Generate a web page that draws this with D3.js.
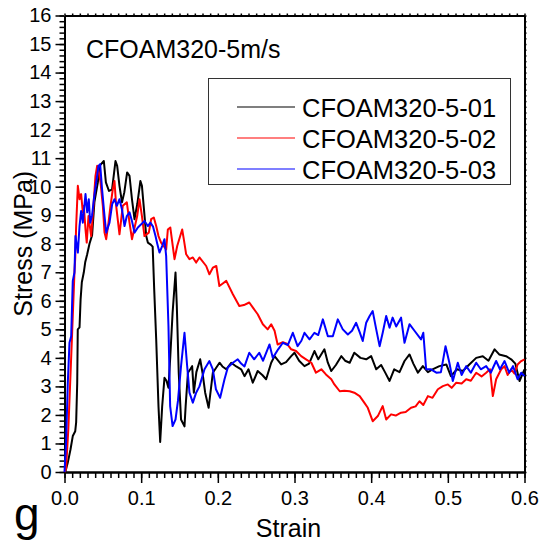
<!DOCTYPE html>
<html>
<head>
<meta charset="utf-8">
<script src="https://cdn.jsdelivr.net/npm/d3@7"></script>
<style>
  body { margin: 0; background: #fff; }
  text { font-family: "Liberation Sans", Arial, sans-serif; }
</style>
</head>
<body>
<div id="chart"></div>
<script>
// stress-strain curves, [strain, stress (MPa)]
const seriesNames = ["CFOAM320-5-01", "CFOAM320-5-02", "CFOAM320-5-03"];
const seriesColors = ["#000000", "#ff0000", "#0000ff"];

const curve01 = [[0,0],[0.0013,0.03],[0.0043,0.33],[0.0078,0.79],[0.0108,1.26],[0.014,1.43],[0.0152,1.74],[0.0166,3.14],[0.0173,5.0],[0.0196,5.07],[0.021,6.05],[0.0226,6.65],[0.0252,7.0],[0.027,7.35],[0.0296,7.63],[0.0326,8.0],[0.036,8.3],[0.039,9.46],[0.0435,10.15],[0.0457,10.73],[0.0513,10.9],[0.054,10.15],[0.058,9.85],[0.062,9.9],[0.0665,10.9],[0.0687,10.73],[0.0717,10.03],[0.075,9.45],[0.078,9.8],[0.0817,10.5],[0.0848,10.38],[0.088,9.56],[0.0913,8.86],[0.095,9.4],[0.099,10.2],[0.101,10.03],[0.104,9.1],[0.1066,8.27],[0.1087,8.04],[0.112,7.98],[0.115,7.9],[0.117,6.4],[0.1196,4.65],[0.1226,2.3],[0.1248,1.05],[0.1274,2.3],[0.1304,3.3],[0.133,3.2],[0.1356,2.95],[0.138,4.06],[0.141,5.58],[0.1448,6.99],[0.1465,5.82],[0.149,3.48],[0.152,1.84],[0.1565,1.6],[0.158,2.3],[0.161,3.48],[0.164,3.6],[0.1665,3.71],[0.1687,2.78],[0.172,3.5],[0.177,3.95],[0.18,3.48],[0.1835,2.78],[0.188,2.25],[0.1935,3.48],[0.2022,3.83],[0.206,3.7],[0.211,3.6],[0.2174,3.83],[0.224,3.7],[0.2304,3.6],[0.2348,3.36],[0.24,3.6],[0.2456,3.13],[0.252,3.54],[0.258,3.4],[0.263,3.25],[0.2696,3.83],[0.274,4.06],[0.2826,3.77],[0.289,3.85],[0.2957,4.06],[0.3,4.18],[0.306,3.9],[0.313,3.71],[0.319,3.8],[0.326,4.24],[0.331,3.95],[0.339,4.3],[0.3435,3.83],[0.348,3.54],[0.354,3.75],[0.361,4.06],[0.366,3.9],[0.372,3.83],[0.378,4.18],[0.386,4.0],[0.3935,3.95],[0.4,4.06],[0.4066,3.6],[0.413,3.75],[0.418,3.5],[0.424,3.19],[0.43,3.6],[0.437,3.5],[0.4435,3.89],[0.45,4.12],[0.455,3.8],[0.461,3.48],[0.4674,3.71],[0.474,3.5],[0.48,3.6],[0.489,3.71],[0.498,3.77],[0.504,3.36],[0.512,3.6],[0.5196,3.54],[0.528,3.77],[0.537,4.0],[0.5456,4.06],[0.553,3.9],[0.561,4.3],[0.567,4.12],[0.576,4.06],[0.5826,3.95],[0.588,3.8],[0.5935,3.19],[0.6,3.6]];

const curve02 = [[0,0],[0.002,0.1],[0.005,1.5],[0.0078,3.4],[0.01,4.9],[0.012,6.3],[0.013,7.0],[0.014,7.5],[0.0152,8.62],[0.0174,10.03],[0.0196,9.56],[0.0217,9.74],[0.0239,9.1],[0.0252,9.33],[0.0274,8.5],[0.029,8.04],[0.0313,8.97],[0.0348,8.27],[0.0378,9.33],[0.0404,10.38],[0.0426,10.73],[0.0448,10.5],[0.047,10.15],[0.05,9.33],[0.0522,8.39],[0.0544,8.16],[0.0574,8.74],[0.06,9.33],[0.063,9.91],[0.0652,10.2],[0.0674,9.33],[0.0717,8.33],[0.076,9.33],[0.0813,9.45],[0.0848,8.74],[0.088,8.16],[0.0948,8.97],[0.0978,9.56],[0.101,8.97],[0.1043,8.27],[0.11,8.39],[0.113,8.86],[0.1165,8.92],[0.1196,8.62],[0.1226,8.27],[0.126,8.04],[0.1326,7.8],[0.1348,8.5],[0.138,8.57],[0.1435,7.46],[0.147,7.92],[0.1535,8.5],[0.1556,8.16],[0.1587,7.63],[0.163,7.46],[0.1674,7.52],[0.1717,7.34],[0.176,7.52],[0.1848,7.22],[0.189,6.93],[0.1935,7.16],[0.198,7.22],[0.202,6.52],[0.206,6.6],[0.211,6.7],[0.2196,6.23],[0.228,5.82],[0.234,5.85],[0.241,5.94],[0.246,5.75],[0.252,5.53],[0.2587,5.18],[0.265,5.0],[0.2696,5.18],[0.274,4.95],[0.278,4.47],[0.2848,4.55],[0.29,4.5],[0.2957,4.3],[0.302,4.24],[0.3087,4.06],[0.315,3.95],[0.322,3.83],[0.328,3.48],[0.335,3.6],[0.341,3.42],[0.348,3.25],[0.352,3.07],[0.359,2.83],[0.365,2.85],[0.372,2.83],[0.378,2.78],[0.385,2.66],[0.391,2.43],[0.3956,2.25],[0.402,1.78],[0.4087,1.96],[0.415,2.31],[0.4196,1.84],[0.426,2.02],[0.432,1.98],[0.439,2.08],[0.445,2.1],[0.452,2.25],[0.458,2.3],[0.463,2.48],[0.468,2.35],[0.474,2.66],[0.48,2.6],[0.487,2.9],[0.4935,3.01],[0.5,3.07],[0.505,2.95],[0.511,3.13],[0.518,3.1],[0.524,3.25],[0.53,3.2],[0.537,3.48],[0.544,3.35],[0.55,3.48],[0.555,3.6],[0.5587,2.66],[0.563,3.25],[0.5696,3.6],[0.574,3.71],[0.578,3.4],[0.5826,3.6],[0.587,3.45],[0.591,3.77],[0.5957,3.89],[0.6,3.95]];

const curve03 = [[0,0],[0.002,1.0],[0.0043,3.13],[0.0065,4.53],[0.0087,4.76],[0.0108,6.7],[0.013,6.99],[0.0143,8.27],[0.0174,7.69],[0.0196,8.62],[0.0217,9.15],[0.0239,8.74],[0.0274,9.74],[0.0296,9.1],[0.0317,9.56],[0.0335,8.74],[0.036,9.0],[0.0383,9.56],[0.0413,10.15],[0.0443,10.73],[0.0465,10.79],[0.049,9.91],[0.0522,8.97],[0.0544,8.39],[0.0587,8.74],[0.0622,9.39],[0.0652,9.56],[0.0683,9.33],[0.0717,9.56],[0.075,9.2],[0.0783,8.62],[0.0813,8.97],[0.0848,9.1],[0.088,8.8],[0.0913,8.39],[0.0957,8.57],[0.1,8.68],[0.1043,8.8],[0.1087,8.62],[0.112,8.74],[0.1155,8.6],[0.1187,8.27],[0.121,8.0],[0.1239,7.69],[0.1274,7.92],[0.1304,8.16],[0.1326,7.57],[0.1356,5.12],[0.1378,2.31],[0.141,1.61],[0.1448,1.84],[0.148,2.5],[0.152,3.71],[0.1565,4.88],[0.16,3.71],[0.163,2.78],[0.1674,2.43],[0.1717,2.78],[0.176,3.0],[0.1826,3.6],[0.189,3.89],[0.1935,3.6],[0.1975,2.9],[0.203,2.6],[0.2087,3.25],[0.213,3.66],[0.2196,3.83],[0.226,3.95],[0.2304,3.8],[0.2348,3.7],[0.241,4.18],[0.2474,3.95],[0.254,4.18],[0.259,3.9],[0.2674,4.47],[0.2717,4.0],[0.2787,4.3],[0.2848,4.53],[0.2913,4.45],[0.2978,4.88],[0.304,4.41],[0.309,4.6],[0.313,4.88],[0.3196,4.65],[0.326,4.88],[0.331,4.8],[0.337,5.35],[0.3435,4.76],[0.35,4.76],[0.3565,5.35],[0.363,5.0],[0.3696,4.82],[0.375,4.95],[0.3804,5.23],[0.385,4.9],[0.389,4.59],[0.3935,5.23],[0.398,5.47],[0.402,5.64],[0.4066,5.0],[0.411,4.41],[0.4152,4.9],[0.4196,5.47],[0.424,5.06],[0.428,5.41],[0.4326,5.1],[0.439,5.41],[0.4435,4.53],[0.45,5.18],[0.4565,4.95],[0.465,4.65],[0.468,4.88],[0.4717,3.6],[0.478,3.6],[0.485,3.48],[0.491,3.5],[0.497,4.41],[0.502,3.83],[0.5065,3.19],[0.513,3.83],[0.518,3.4],[0.524,3.71],[0.53,3.48],[0.537,3.83],[0.543,3.6],[0.55,3.71],[0.556,3.48],[0.563,3.89],[0.568,3.6],[0.574,3.89],[0.58,3.48],[0.585,3.71],[0.591,3.25],[0.5957,3.48],[0.6,3.36]];

const curves = [curve01, curve02, curve03];

const xTicks = [0, 0.1, 0.2, 0.3, 0.4, 0.5, 0.6];
const yTicks = d3.range(0, 17);
const xMinor = d3.range(0, 61).map(i => i / 100);
const yMinor = d3.range(0, 81).map(i => i / 5);

const width = 540, height = 542;
const margin = {top: 15.5, right: 15.5, bottom: 70, left: 64.5};

const svg = d3.select("#chart").append("svg")
  .attr("width", width)
  .attr("height", height);

const x = d3.scaleLinear().domain([0, 0.6]).range([margin.left, width - margin.right]);
const y = d3.scaleLinear().domain([0, 16]).range([height - margin.bottom, margin.top]);

// minor ticks first, majors on top
svg.append("g").attr("transform", `translate(0,${y(0)})`)
  .call(d3.axisBottom(x).tickValues(xMinor).tickSize(6).tickSizeOuter(0).tickFormat(""));
svg.append("g").attr("transform", `translate(${x(0)},0)`)
  .call(d3.axisLeft(y).tickValues(yMinor).tickSize(5).tickSizeOuter(0).tickFormat(""));
svg.append("g").attr("transform", `translate(0,${y(16)})`)
  .call(d3.axisTop(x).tickValues(xMinor).tickSize(2).tickSizeOuter(0).tickFormat(""));
svg.append("g").attr("transform", `translate(${x(0.6)},0)`)
  .call(d3.axisRight(y).tickValues(yMinor).tickSize(2).tickSizeOuter(0).tickFormat(""));

const xAxis = svg.append("g").attr("class", "xaxis").attr("transform", `translate(0,${y(0)})`)
  .call(d3.axisBottom(x).tickValues(xTicks).tickSize(11).tickSizeOuter(0).tickPadding(4).tickFormat(d3.format(".1f")));
const yAxis = svg.append("g").attr("class", "yaxis").attr("transform", `translate(${x(0)},0)`)
  .call(d3.axisLeft(y).tickValues(yTicks).tickSize(9).tickSizeOuter(0).tickPadding(4));

svg.selectAll(".tick line").attr("stroke", "#000").attr("stroke-width", 1.5);
svg.selectAll(".domain").attr("stroke", "#000").attr("stroke-width", 2);
xAxis.selectAll("text").attr("font-size", 20).attr("fill", "#000").attr("dy", "0.9em");
yAxis.selectAll("text").attr("font-size", 20).attr("fill", "#000");

// curves
const line = d3.line().x(d => x(d[0])).y(d => y(d[1]));
svg.append("g").selectAll("path")
  .data(curves)
  .join("path")
  .attr("d", line)
  .attr("fill", "none")
  .attr("stroke", (d, i) => seriesColors[i])
  .attr("stroke-width", 2)
  .attr("stroke-linejoin", "round");

// labels
svg.append("text").attr("x", 86).attr("y", 58).attr("font-size", 25).text("CFOAM320-5m/s");

svg.append("text")
  .attr("x", (x(0) + x(0.6)) / 2 - 6).attr("y", 537)
  .attr("text-anchor", "middle").attr("font-size", 25).text("Strain");

svg.append("text")
  .attr("transform", `translate(32,${(y(0) + y(16)) / 2}) rotate(-90)`)
  .attr("text-anchor", "middle").attr("font-size", 25).text("Stress (MPa)");

svg.append("text").attr("x", 14).attr("y", 530).attr("font-size", 46).text("g");

// legend
const legend = svg.append("g");
legend.append("rect")
  .attr("x", 208.5).attr("y", 78.5).attr("width", 302).attr("height", 106)
  .attr("fill", "#fff").attr("stroke", "#333").attr("stroke-width", 1);

const rows = legend.selectAll("g.row").data(seriesNames).join("g")
  .attr("transform", (d, i) => `translate(0,${107 + i * 31})`);
rows.append("line")
  .attr("x1", 237).attr("x2", 295)
  .attr("stroke", (d, i) => seriesColors[i]).attr("stroke-width", 1.2);
rows.append("text")
  .attr("x", 302).attr("y", 10).attr("font-size", 25.5).text(d => d);
</script>
</body>
</html>
